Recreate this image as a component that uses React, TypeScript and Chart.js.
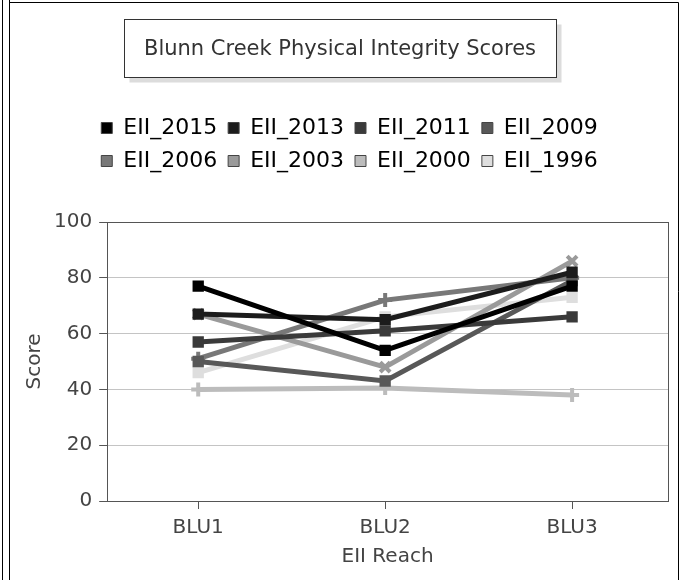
import React, { useEffect, useRef } from "react";
import { Chart, registerables } from "chart.js";

Chart.register(...registerables);

const chartTitle = "Blunn Creek Physical Integrity Scores";
const xAxisTitle = "EII Reach";
const yAxisTitle = "Score";
const categories = ["BLU1", "BLU2", "BLU3"];
const seriesNames = ["EII_2015", "EII_2013", "EII_2011", "EII_2009", "EII_2006", "EII_2003", "EII_2000", "EII_1996"];
const eii2015 = [77, 54, 77];
const eii2013 = [67, 65, 82];
const eii2011 = [57, 61, 66];
const eii2009 = [50, 43, 79];
const eii2006 = [51, 72, 80];
const eii2003 = [67, 48, 86];
const eii2000 = [40, 40.5, 38];
const eii1996 = [46, 66, 73];
const seriesValues = [eii2015, eii2013, eii2011, eii2009, eii2006, eii2003, eii2000, eii1996];
const seriesColors = ["#000000", "#1c1c1c", "#3a3a3a", "#585858", "#787878", "#9a9a9a", "#bcbcbc", "#dedede"];
const seriesMarkers = ["rect", "rect", "rect", "rect", "cross", "crossRot", "cross", "rect"];
const yTicks = [0, 20, 40, 60, 80, 100];

const FONT = "'DejaVu Sans', sans-serif";
const LEGEND_WRAP = 545;
const LEGEND_EXTRA = 40;
const LEGEND_SHIFT = 4;

const decorPlugin = {
  id: "decor",
  beforeLayout(chart: any) {
    const legend = chart.legend;
    if (legend && !legend.__patched) {
      legend.__patched = true;
      const origFit = legend.fit;
      legend.fit = function () {
        const mw = this.maxWidth;
        this.maxWidth = Math.min(mw, LEGEND_WRAP);
        origFit.call(this);
        this.maxWidth = mw;
        this.width = mw;
        this.height += LEGEND_EXTRA;
      };
    }
  },
  afterLayout(chart: any) {
    const legend = chart.legend;
    if (legend) {
      legend.left += LEGEND_SHIFT;
      legend.right += LEGEND_SHIFT;
    }
  },
  beforeDraw(chart: any) {
    const ctx = chart.ctx;
    const W = chart.width;
    const H = chart.height;
    ctx.save();
    ctx.fillStyle = "#ffffff";
    ctx.fillRect(0, 0, W, H);
    ctx.strokeStyle = "#000000";
    ctx.lineWidth = 1;
    ctx.beginPath();
    ctx.moveTo(2.5, 0);
    ctx.lineTo(2.5, H);
    ctx.moveTo(9.5, 0);
    ctx.lineTo(9.5, H);
    ctx.moveTo(9.5, 2.5);
    ctx.lineTo(W - 2.5, 2.5);
    ctx.moveTo(W - 2.5, 2.5);
    ctx.lineTo(W - 2.5, H);
    ctx.stroke();
    ctx.font = "21px " + FONT;
    const tw = ctx.measureText(chartTitle).width;
    const cx = 340;
    const bw = Math.round(tw + 40);
    const bx = Math.round(cx - bw / 2) + 0.5;
    const by = 19.5;
    const bh = 58;
    ctx.fillStyle = "#dcdcdc";
    ctx.fillRect(bx + 5, by + 5, bw, bh);
    ctx.fillStyle = "#ffffff";
    ctx.fillRect(bx, by, bw, bh);
    ctx.strokeStyle = "#333333";
    ctx.strokeRect(bx, by, bw, bh);
    ctx.fillStyle = "#333333";
    ctx.textAlign = "center";
    ctx.textBaseline = "middle";
    ctx.fillText(chartTitle, cx, by + bh / 2 + 1);
    ctx.restore();
  },
  afterDraw(chart: any) {
    const { left, right, top, bottom } = chart.chartArea;
    const ctx = chart.ctx;
    ctx.save();
    ctx.lineWidth = 1;
    ctx.strokeStyle = "#555555";
    ctx.strokeRect(Math.round(left) + 0.5, Math.round(top) + 0.5, Math.round(right - left), Math.round(bottom - top));
    ctx.restore();
  },
};

export default function App() {
  const ref = useRef<HTMLCanvasElement | null>(null);
  useEffect(() => {
    document.body.style.margin = "0";
    const canvas = ref.current!;
    const datasets = seriesNames.map((name, i) => {
      const isRect = seriesMarkers[i] === "rect";
      return {
        label: name,
        data: seriesValues[i].map((v, j) => ({ x: j, y: v })),
        borderColor: seriesColors[i],
        backgroundColor: seriesColors[i],
        borderWidth: 5,
        pointStyle: seriesMarkers[i],
        pointRadius: isRect ? 8 : 7,
        pointBorderWidth: isRect ? 0 : 4,
        pointBorderColor: seriesColors[i],
        tension: 0,
      };
    });
    const chart = new Chart(canvas, {
      type: "line",
      data: { datasets },
      plugins: [decorPlugin],
      options: {
        responsive: false,
        animation: false,
        devicePixelRatio: 1,
        layout: { padding: { left: 23, right: 13, top: 106, bottom: 13 } },
        plugins: {
          title: { display: false },
          tooltip: { enabled: false },
          legend: {
            display: true,
            position: "top",
            labels: {
              font: { family: FONT, size: 22 },
              color: "#333333",
              boxWidth: 11,
              boxHeight: 11,
              padding: 11,
              generateLabels: (ch: any) =>
                ch.data.datasets.map((ds: any, i: number) => ({
                  text: ds.label,
                  fillStyle: seriesColors[i],
                  strokeStyle: "#444444",
                  lineWidth: 1,
                  hidden: false,
                  datasetIndex: i,
                })),
            },
          },
        },
        scales: {
          x: {
            type: "linear",
            min: -0.487,
            max: 2.513,
            afterBuildTicks: (scale: any) => {
              scale.ticks = categories.map((_, i) => ({ value: i }));
            },
            ticks: {
              callback: (v: any) => categories[v] ?? "",
              font: { family: FONT, size: 20, lineHeight: 1 },
              color: "#444444",
              padding: 9,
              maxRotation: 0,
            },
            grid: { drawOnChartArea: false, tickLength: 8, tickColor: "#555555" },
            border: { color: "#555555" },
            title: { display: true, text: xAxisTitle, font: { family: FONT, size: 20, lineHeight: 1 }, color: "#444444", padding: { top: 0, bottom: 0 } },
          },
          y: {
            type: "linear",
            min: 0,
            max: 100,
            afterBuildTicks: (scale: any) => {
              scale.ticks = yTicks.map((v) => ({ value: v }));
            },
            ticks: { font: { family: FONT, size: 20 }, color: "#444444", padding: 7 },
            grid: { color: "#c4c4c4", tickLength: 8, tickColor: "#555555" },
            border: { color: "#555555" },
            title: { display: true, text: yAxisTitle, font: { family: FONT, size: 20 }, color: "#444444", padding: { top: 0, bottom: 0 } },
          },
        },
      },
    } as any);
    return () => chart.destroy();
  }, []);
  return <canvas ref={ref} width={681} height={580} style={{ display: "block" }} />;
}
